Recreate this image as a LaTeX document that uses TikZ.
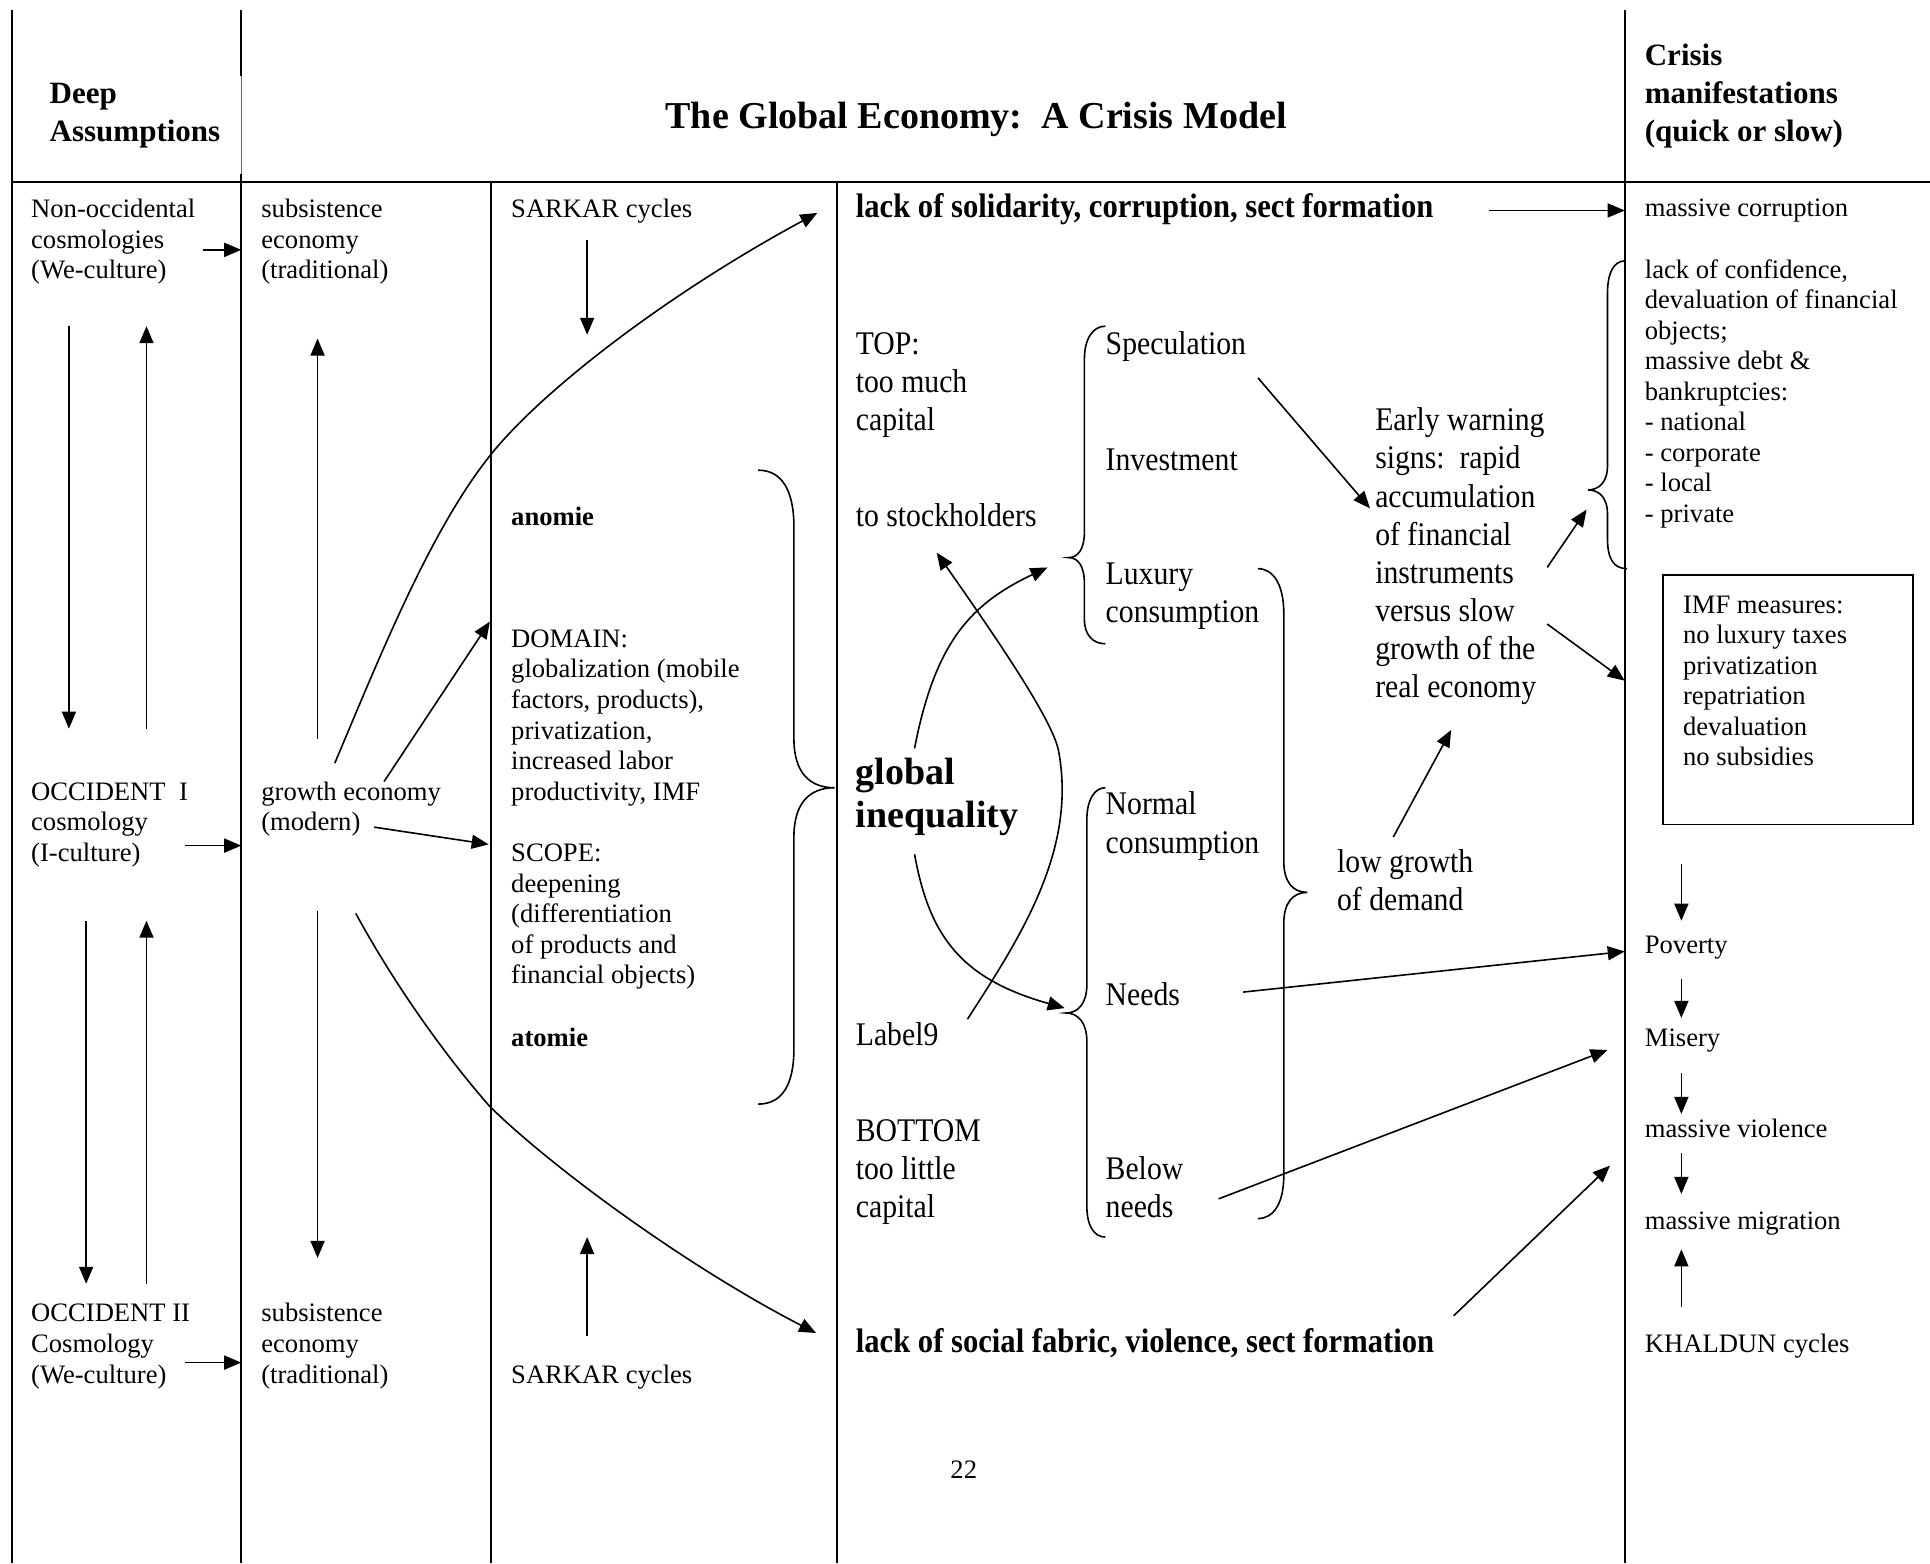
\documentclass[tikz,border=0pt]{standalone}
\usepackage{fontspec}
\setmainfont{Liberation Serif}
\newfontfamily\condfont[FakeStretch=0.9]{Liberation Serif}
\usetikzlibrary{arrows.meta}
\newcommand\smtxt{\fontsize{13.3}{15.25}\selectfont}
\newcommand\mdtxt{\condfont\fontsize{16.5}{19.07}\selectfont}
\newcommand\hdtxt{\bfseries\fontsize{15.5}{19}\selectfont}
\begin{document}
\begin{tikzpicture}[x=0.615pt,y=-0.615pt,
  txt/.style={anchor=base west,inner sep=0pt,align=left,font=\smtxt},
  mtxt/.style={anchor=base west,inner sep=0pt,align=left,font=\mdtxt},
  arr/.style={-{Triangle[length=8.5pt,width=7pt]},line width=0.8pt},
  rulel/.style={line width=1pt},
  bracel/.style={line width=0.8pt}]
\fill[white] (0,0) rectangle (1568,1270);
\useasboundingbox (0,0) rectangle (1568,1270);
% ---- frame lines
\draw[rulel] (10,8) -- (10,1270);
\draw[rulel] (196,8) -- (196,62);
\draw[line width=0.4pt,black!60] (196,62) -- (196,141);
\draw[rulel] (196,141) -- (196,1270);
\draw[rulel] (10,148) -- (1568,148);
\draw[rulel] (399,148) -- (399,1270);
\draw[rulel] (680,148) -- (680,1270);
\draw[rulel] (1320,8) -- (1320,1270);
% ---- headers (anchors at the baseline of the last line)
\node[txt,font=\hdtxt] (deep) at (40,115) {Deep\\Assumptions};
\node[anchor=base,inner sep=0pt,font=\bfseries\fontsize{19}{22}\selectfont] (title) at (793,104) {The Global Economy:\ \ A Crisis Model};
\node[txt,font=\hdtxt] (crisis) at (1336,115) {Crisis\\manifestations\\(quick or slow)};
% ---- column 1
\node[txt] (nonocc) at (25,226.6) {Non-occidental\\cosmologies\\(We-culture)};
\node[txt] (occ1) at (25,699.6) {OCCIDENT\ \ I\\cosmology\\(I-culture)};
\node[txt] (occ2) at (25,1123.6) {OCCIDENT II\\Cosmology\\(We-culture)};
% ---- column 2
\node[txt] (subs1) at (212,226.6) {subsistence\\economy\\(traditional)};
\node[txt] (growth) at (212,674.8) {growth economy\\(modern)};
\node[txt] (subs2) at (212,1123.6) {subsistence\\economy\\(traditional)};
% ---- column 3
\node[txt] (sarkar1) at (415,177) {SARKAR cycles};
\node[txt,font=\smtxt\bfseries] (anomie) at (415,427) {anomie};
\node[txt] (domain) at (415,650) {DOMAIN:\\globalization (mobile\\factors, products),\\privatization,\\increased labor\\productivity, IMF};
\node[txt] (scope) at (415,799.2) {SCOPE:\\deepening\\(differentiation\\of products and\\financial objects)};
\node[txt,font=\smtxt\bfseries] (atomie) at (415,850) {atomie};
\node[txt] (sarkar2) at (415,1124) {SARKAR cycles};
% ---- column 4
\node[txt,font=\condfont\bfseries\fontsize{17}{20}\selectfont] (solid) at (695,177) {lack of solidarity, corruption, sect formation};
\node[mtxt] (top) at (695,350) {TOP:\\too much\\capital};
\node[mtxt] (stock) at (695,428) {to stockholders};
\node[txt,font=\bfseries\fontsize{19}{21.5}\selectfont] (global) at (695,672) {global\\inequality};
\node[mtxt] (label9) at (695,849) {Label9};
\node[mtxt] (bottom) at (695,989) {BOTTOM\\too little\\capital};
\node[txt,font=\condfont\bfseries\fontsize{17}{20}\selectfont] (fabric) at (695,1099) {lack of social fabric, violence, sect formation};
\node[anchor=base,inner sep=0pt,font=\smtxt] (page) at (783,1201) {22};
\node[mtxt] (spec) at (898,288) {Speculation};
\node[mtxt] (invest) at (898,382) {Investment};
\node[mtxt] (luxury) at (898,506) {Luxury\\consumption};
\node[mtxt] (early) at (1117,567) {Early warning\\signs:\ \ rapid\\accumulation\\of financial\\instruments\\versus slow\\growth of the\\real economy};
\node[mtxt] (normal) at (898,693) {Normal\\consumption};
\node[mtxt] (needs) at (898,817) {Needs};
\node[mtxt] (below) at (898,989) {Below\\needs};
\node[mtxt] (lowg) at (1086,740) {low growth\\of demand};
% ---- column 5
\node[txt] (corrupt) at (1336,176) {massive corruption};
\node[txt] (confid) at (1336,424.4) {lack of confidence,\\devaluation of financial\\objects;\\massive debt \&\\bankruptcies:\\- national\\- corporate\\- local\\- private};
\node[draw,line width=0.8pt,minimum width=124.8pt,minimum height=124.8pt,inner sep=0pt] (imfbox) at (1452.5,568.5) {};
\node[txt] (imf) at (1367,622) {IMF measures:\\no luxury taxes\\privatization\\repatriation\\devaluation\\no subsidies};
\node[txt] (poverty) at (1336,775) {Poverty};
\node[txt] (misery) at (1336,850) {Misery};
\node[txt] (violence) at (1336,924) {massive violence};
\node[txt] (migration) at (1336,999) {massive migration};
\node[txt] (khaldun) at (1336,1099) {KHALDUN cycles};
% ---- coordinates for connectors
\coordinate (a1s) at (165,203); \coordinate (a1e) at (196,203);
\coordinate (a2s) at (150,687); \coordinate (a2e) at (196,687);
\coordinate (a3s) at (150,1107); \coordinate (a3e) at (196,1107);
\coordinate (d1t) at (56,265); \coordinate (d1b) at (56,592);
\coordinate (u1b) at (119,592); \coordinate (u1t) at (119,265);
\coordinate (d2t) at (70,748); \coordinate (d2b) at (70,1043);
\coordinate (u2b) at (119,1043); \coordinate (u2t) at (119,748);
\coordinate (g1b) at (258,600); \coordinate (g1t) at (258,275);
\coordinate (g2t) at (258,740); \coordinate (g2b) at (258,1022);
\coordinate (gd) at (312,635); \coordinate (domtip) at (398,505);
\coordinate (gs) at (304,672); \coordinate (scotip) at (397,686);
\coordinate (gu) at (272,620); \coordinate (gumid) at (399,369); \coordinate (soltip) at (664,173);
\coordinate (gl) at (289,742); \coordinate (glmid) at (398,899); \coordinate (fabtip) at (663,1083);
\coordinate (s1t) at (477,195); \coordinate (s1b) at (477,272);
\coordinate (s2b) at (477,1085); \coordinate (s2t) at (477,1005);
\coordinate (solend) at (1210,171); \coordinate (cortip) at (1320,171);
\coordinate (specs) at (1022,307); \coordinate (specend) at (1113,413);
\coordinate (ews1) at (1257,461); \coordinate (ewe1) at (1289,414);
\coordinate (ews2) at (1257,507); \coordinate (ewe2) at (1320,553);
\coordinate (lgs) at (1132,680); \coordinate (lge) at (1179,593);
\coordinate (nds) at (1010,806); \coordinate (nde) at (1320,773);
\coordinate (bns) at (990,974); \coordinate (bne) at (1306,853);
\coordinate (fbs) at (1181,1069); \coordinate (fbe) at (1308,947);
\coordinate (giu) at (743,608); \coordinate (luxtip) at (851,461);
\coordinate (gid) at (743,694); \coordinate (needtip) at (865,819);
\coordinate (l9s) at (786,828); \coordinate (stocktip) at (761,449);
% ---- arrows
\draw[arr] (a1s) -- (a1e);
\draw[arr] (a2s) -- (a2e);
\draw[arr] (a3s) -- (a3e);
\draw[arr] (d1t) -- (d1b);
\draw[arr] (u1b) -- (u1t);
\draw[arr] (d2t) -- (d2b);
\draw[arr] (u2b) -- (u2t);
\draw[arr] (g1b) -- (g1t);
\draw[arr] (g2t) -- (g2b);
\draw[arr] (gd) -- (domtip);
\draw[arr] (gs) -- (scotip);
\draw[arr] (gu) .. controls (310,530) and (350,430) .. (gumid) .. controls (440,318) and (540,240) .. (soltip);
\draw[arr] (gl) .. controls (315,790) and (355,850) .. (glmid) .. controls (450,950) and (560,1030) .. (fabtip);
\draw[arr] (s1t) -- (s1b);
\draw[arr] (s2b) -- (s2t);
\draw[arr] (solend) -- (cortip);
\draw[arr] (specs) -- (specend);
\draw[arr] (ews1) -- (ewe1);
\draw[arr] (ews2) -- (ewe2);
\draw[arr] (lgs) -- (lge);
\draw[arr] (nds) -- (nde);
\draw[arr] (bns) -- (bne);
\draw[arr] (fbs) -- (fbe);
\draw[arr] (giu) .. controls (760,520) and (790,490) .. (luxtip);
\draw[arr] (gid) .. controls (755,760) and (780,795) .. (needtip);
\draw[arr] (l9s) .. controls (830,760) and (875,690) .. (860,610) .. controls (855,583) and (800,505) .. (stocktip);
\coordinate (imf1s) at (1366,702); \coordinate (imf1e) at (1366,748);
\coordinate (pv1) at (1366,795); \coordinate (pv2) at (1366,827);
\coordinate (ms1) at (1366,872); \coordinate (ms2) at (1366,905);
\coordinate (vi1) at (1366,937); \coordinate (vi2) at (1366,970);
\coordinate (kh1) at (1366,1062); \coordinate (kh2) at (1366,1015);
\draw[arr] (imf1s) -- (imf1e);
\draw[arr] (pv1) -- (pv2);
\draw[arr] (ms1) -- (ms2);
\draw[arr] (vi1) -- (vi2);
\draw[arr] (kh1) -- (kh2);
% ---- braces
\draw[bracel] (616,382) .. controls (635,382) and (645,398) .. (645,428) -- (645,600) .. controls (645,628) and (658,640) .. (678,640) .. controls (658,640) and (645,652) .. (645,680) -- (645,852) .. controls (645,882) and (635,897) .. (616,897);
\draw[bracel] (898,265) .. controls (888,265) and (881,275) .. (881,292) -- (881,432) .. controls (881,446) and (876,453) .. (868,453) .. controls (876,453) and (881,460) .. (881,474) -- (881,503) .. controls (881,516) and (888,523) .. (898,523);
\draw[bracel] (1022,462) .. controls (1035,462) and (1043,476) .. (1043,498) -- (1043,700) .. controls (1043,716) and (1050,725) .. (1062,725) .. controls (1050,725) and (1043,734) .. (1043,750) -- (1043,955) .. controls (1043,977) and (1035,990) .. (1022,990);
\draw[bracel] (898,640) .. controls (889,640) and (883,650) .. (883,666) -- (883,800) .. controls (883,815) and (876,823) .. (866,823) .. controls (876,823) and (883,831) .. (883,846) -- (883,980) .. controls (883,996) and (889,1005) .. (898,1005);
\draw[bracel] (1320,212) .. controls (1311,212) and (1306,222) .. (1306,238) -- (1306,378) .. controls (1306,392) and (1299,398) .. (1290,398) .. controls (1299,398) and (1306,404) .. (1306,418) -- (1306,438) .. controls (1306,454) and (1311,462) .. (1322,462);
\end{tikzpicture}
\end{document}
